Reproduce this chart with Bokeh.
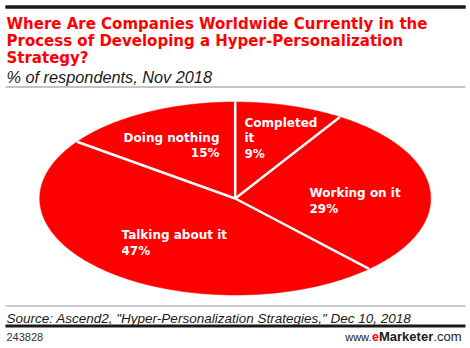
import numpy as np
from bokeh.plotting import figure
from bokeh.models import Range1d, Label, BoxAnnotation
from bokeh.embed import file_html
from bokeh.resources import INLINE

# ---- data ----
categories = ["Completed it", "Working on it", "Talking about it", "Doing nothing"]
values = [9, 29, 47, 15]
label_rows = [["Completed", "it"], ["Working on it"], ["Talking about it"], ["Doing nothing"]]

title_lines = ["Where Are Companies Worldwide Currently in the",
               "Process of Developing a Hyper-Personalization",
               "Strategy?"]
subtitle = "% of respondents, Nov 2018"
source = 'Source: Ascend2, "Hyper-Personalization Strategies," Dec 10, 2018'
chart_id = "243828"

# ---- layout (pixels, top-down) ----
W, H = 470, 348
CX, CY, RX, RY = 234.7, 198.0, 195.5, 96.5
RED = "#ff0000"
TXT_OFF = 3.5  # baseline correction
label_pos = [(244, 125.5, "left"), (309, 196.0, "left"), (121, 238.3, "left"), (219, 140.5, "right")]
LINE_H = 15.5

def X(px):
    return (px - CX) / RX

def Y(py):
    return (CY - py) / RY

def TY(py):
    return Y(py - TXT_OFF)

p = figure(width=W, height=H, min_border=0, toolbar_location=None,
           x_axis_location=None, y_axis_location=None, outline_line_color=None,
           output_backend="svg",
           x_range=Range1d(X(0), X(W)), y_range=Range1d(Y(H), Y(0)))
p.xgrid.visible = False
p.ygrid.visible = False

# ---- pie slices ----
total = float(sum(values))
cum = np.concatenate([[0.0], np.cumsum(values)]) / total
xs, ys = [], []
for i in range(len(values)):
    a = np.pi / 2 - 2 * np.pi * np.linspace(cum[i], cum[i + 1], 120)
    xs.append(np.concatenate([[0.0], np.cos(a)]).tolist())
    ys.append(np.concatenate([[0.0], np.sin(a)]).tolist())
p.patches(xs, ys, fill_color=RED, line_color=RED, line_width=0.5)

ang = np.pi / 2 - 2 * np.pi * cum[:-1]
p.segment(x0=[0.0] * len(ang), y0=[0.0] * len(ang), x1=np.cos(ang).tolist(), y1=np.sin(ang).tolist(),
          line_color="white", line_width=2.5)

# ---- rules ----
p.segment(x0=[X(5)], y0=[Y(6.5)], x1=[X(465)], y1=[Y(6.5)], line_color="#1a1a1a", line_width=3)

def rule(y0, y1, color):
    p.add_layout(BoxAnnotation(left=X(5), right=X(465), top=Y(y0), bottom=Y(y1),
                               fill_color=color, fill_alpha=1.0, line_color=None))

rule(5, 8, "#1a1a1a")
rule(86, 87, "#888888")
rule(305, 306, "#999999")
rule(324, 327, "#1a1a1a")

# ---- slice labels ----
for rows, v, (lx, ly, al) in zip(label_rows, values, label_pos):
    for j, t in enumerate(rows + [f"{v}%"]):
        p.add_layout(Label(x=X(lx), y=TY(ly + j * LINE_H), text=t, text_align=al,
                           text_baseline="alphabetic", text_color="white",
                           text_font="DejaVu Sans", text_font_style="bold",
                           text_font_size="12px"))

# ---- title & texts ----
for j, t in enumerate(title_lines):
    p.add_layout(Label(x=X(6), y=TY(26.5 + j * 17.4), text=t, text_baseline="alphabetic",
                       text_color=RED, text_font="DejaVu Sans", text_font_style="bold",
                       text_font_size="15px"))
p.add_layout(Label(x=X(6), y=TY(80), text=subtitle, text_baseline="alphabetic",
                   text_color="#1a1a1a", text_font="Liberation Sans", text_font_style="italic",
                   text_font_size="16.3px"))
p.add_layout(Label(x=X(6), y=TY(321.7), text=source, text_baseline="alphabetic",
                   text_color="#1a1a1a", text_font="Liberation Sans", text_font_style="italic",
                   text_font_size="13.5px"))
p.add_layout(Label(x=X(6), y=TY(339.5), text=chart_id, text_baseline="alphabetic",
                   text_color="#333333", text_font="Liberation Sans", text_font_size="11px"))
p.add_layout(Label(x=X(371), y=TY(339.5), text="www.", text_align="right", text_baseline="alphabetic",
                   text_color="#1a1a1a", text_font="Liberation Sans", text_font_size="11px"))
p.add_layout(Label(x=X(371.5), y=TY(339.5), text="e", text_baseline="alphabetic",
                   text_color=RED, text_font="Liberation Sans", text_font_style="bold", text_font_size="12.5px"))
p.add_layout(Label(x=X(378.5), y=TY(339.5), text="Marketer", text_baseline="alphabetic",
                   text_color="#1a1a1a", text_font="Liberation Sans", text_font_style="bold", text_font_size="13px"))
p.add_layout(Label(x=X(433), y=TY(339.5), text=".com", text_baseline="alphabetic",
                   text_color="#1a1a1a", text_font="Liberation Sans", text_font_size="13px"))

open("out.html", "w").write(file_html(p, INLINE))
